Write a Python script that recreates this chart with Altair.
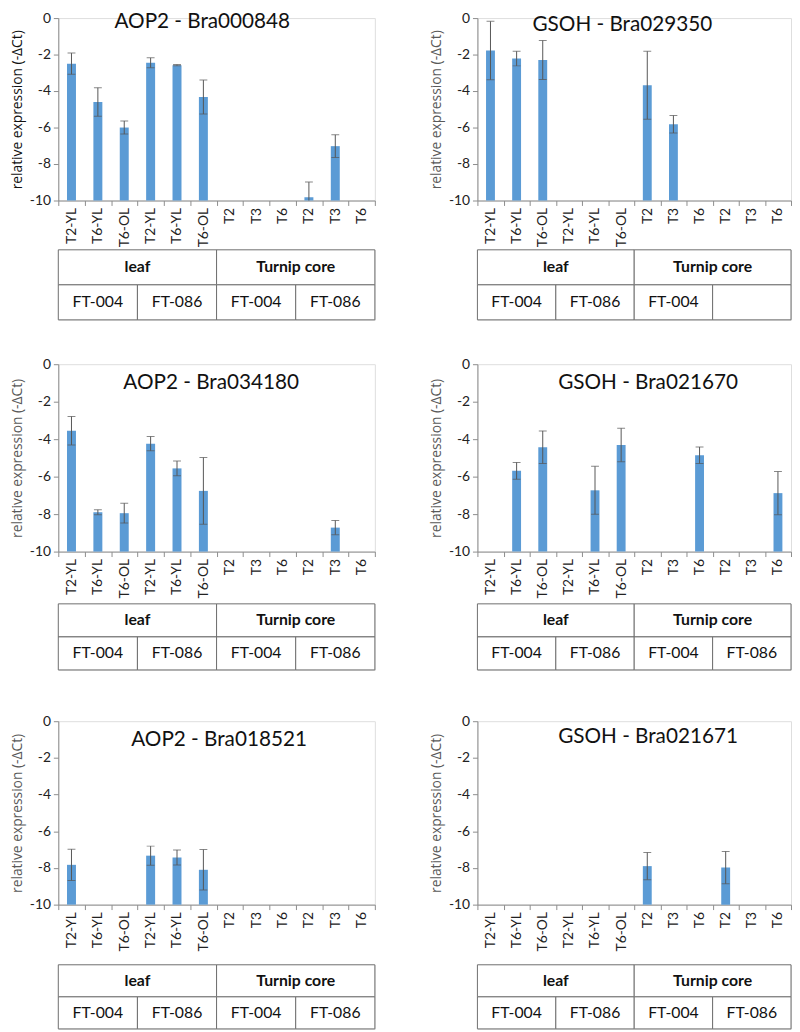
import altair as alt
import pandas as pd

categories = ["T2-YL", "T6-YL", "T6-OL", "T2-YL", "T6-YL", "T6-OL",
              "T2", "T3", "T6", "T2", "T3", "T6"]

titles = ["AOP2 - Bra000848", "GSOH - Bra029350",
          "AOP2 - Bra034180", "GSOH - Bra021670",
          "AOP2 - Bra018521", "GSOH - Bra021671"]

values_p1 = [-2.5, -4.6, -6.0, -2.45, -2.58, -4.33, -10, -10, -10, -9.82, -7.02, -10]
errors_p1 = [0.58, 0.78, 0.36, 0.27, 0.03, 0.93, 0, 0, 0, 0.83, 0.62, 0]

values_p2 = [-1.78, -2.22, -2.3, -10, -10, -10, -3.68, -5.82, -10, -10, -10, -10]
errors_p2 = [1.6, 0.4, 1.07, 0, 0, 0, 1.86, 0.48, 0, 0, 0, 0]

values_p3 = [-3.55, -7.9, -7.95, -4.24, -5.56, -6.76, -10, -10, -10, -10, -8.72, -10]
errors_p3 = [0.76, 0.13, 0.53, 0.38, 0.39, 1.78, 0, 0, 0, 0, 0.38, 0]

values_p4 = [-10, -5.69, -4.43, -10, -6.73, -4.31, -10, -10, -4.86, -10, -10, -6.88]
errors_p4 = [0, 0.45, 0.87, 0, 1.28, 0.89, 0, 0, 0.44, 0, 0, 1.15]

values_p5 = [-7.83, -10, -10, -7.33, -7.43, -8.1, -10, -10, -10, -10, -10, -10]
errors_p5 = [0.85, 0, 0, 0.52, 0.41, 1.1, 0, 0, 0, 0, 0, 0]

values_p6 = [-10, -10, -10, -10, -10, -10, -7.9, -10, -10, -7.98, -10, -10]
errors_p6 = [0, 0, 0, 0, 0, 0, 0.74, 0, 0, 0.88, 0, 0]

table_top = ["leaf", "Turnip core"]
table_bottom = ["FT-004", "FT-086", "FT-004", "FT-086"]
table_bottom_p2 = ["FT-004", "FT-086", "FT-004", ""]

y_ticks = [0, -2, -4, -6, -8, -10]
BAR = "#5B9BD5"
FONT = "Lato"

label_expr = "[" + ",".join("'%s'" % c for c in categories) + "][floor(datum.value)]"


def panel(title, values, errors, bottom, W, H, TH, tx, ty, ytcol, gap):
    df = pd.DataFrame({"i": list(range(12)), "cat": categories,
                       "value": values, "err": errors})
    xs = alt.Scale(domain=[0, 12], nice=False, zero=False)
    ys = alt.Scale(domain=[-10, 0], nice=False, zero=False)
    yaxis = alt.Axis(values=y_ticks, title="relative expression (-ΔCt)",
                     titleFont="Open Sans", titleFontSize=14, titleFontWeight="normal",
                     titleColor=ytcol,
                     labelFontSize=14, labelColor="#222222", labelExpr="'' + datum.value",
                     domainColor="#8c8c8c", tickColor="#8c8c8c", tickSize=5,
                     labelPadding=3, titlePadding=5, grid=False)
    base = alt.Chart(df).transform_calculate(
        xl="datum.i + 0.33", xr="datum.i + 0.67", xc="datum.i + 0.5",
        base="-10", lo="datum.value - datum.err", hi="datum.value + datum.err")
    bars = base.mark_bar(color=BAR).encode(
        x=alt.X("xl:Q", scale=xs, axis=alt.Axis(
            values=[i + 0.5 for i in range(12)], labelExpr=label_expr, labelAngle=-90,
            labelFontSize=14, labelColor="#222222", ticks=False, tickSize=0,
            labelPadding=7, domainColor="#8c8c8c", grid=False, title=None, orient="bottom")),
        x2="xr:Q",
        y=alt.Y("value:Q", scale=ys, axis=yaxis),
        y2="base:Q")
    errdf = base.transform_filter("datum.err > 0")
    rules = errdf.mark_rule(color="#555555", strokeWidth=1, clip=True).encode(
        x=alt.X("xc:Q", scale=xs, axis=alt.Axis(
            values=list(range(13)), labels=False, ticks=True, tickSize=5,
            tickColor="#8c8c8c", domain=False, grid=False, title=None, orient="bottom")),
        y=alt.Y("lo:Q", scale=ys, axis=yaxis),
        y2="hi:Q")
    cap_hi = errdf.mark_tick(color="#555555", orient="horizontal", size=8, thickness=1,
                             clip=True).encode(
        x=alt.X("xc:Q", scale=xs, axis=None),
        y=alt.Y("hi:Q", scale=ys, axis=yaxis))
    cap_lo = errdf.mark_tick(color="#555555", orient="horizontal", size=8, thickness=1,
                             clip=True).encode(
        x=alt.X("xc:Q", scale=xs, axis=None),
        y=alt.Y("lo:Q", scale=ys, axis=yaxis))
    ttl = alt.Chart(pd.DataFrame({"t": [title]})).mark_text(
        font=FONT, fontSize=21, color="#111111", baseline="middle", align="center").encode(
        x=alt.value(tx), y=alt.value(ty), text="t:N")
    plot = alt.layer(bars, rules, cap_hi, cap_lo, ttl).resolve_axis(
        x="independent").properties(width=W, height=H)

    cells = pd.DataFrame({
        "x0": [0, 6, 0, 3, 6, 9],
        "x1": [6, 12, 3, 6, 9, 12],
        "r": [0, 0, 1, 1, 1, 1],
        "label": table_top + bottom,
        "bold": [1, 1, 0, 0, 0, 0]})
    tx_s = alt.Scale(domain=[0, 12], nice=False, zero=False)
    ty_s = alt.Scale(domain=[0, 2], nice=False, zero=False, reverse=True)
    tbase = alt.Chart(cells).transform_calculate(
        r1="datum.r + 1", xm="(datum.x0 + datum.x1) / 2", ym="datum.r + 0.5")
    rects = tbase.mark_rect(fill="white", stroke="#6e6e6e", strokeWidth=1).encode(
        x=alt.X("x0:Q", scale=tx_s, axis=None), x2="x1:Q",
        y=alt.Y("r:Q", scale=ty_s, axis=None), y2="r1:Q")
    t_bold = tbase.transform_filter("datum.bold == 1").mark_text(
        font=FONT, fontSize=16, fontWeight="bold", color="#111111").encode(
        x=alt.X("xm:Q", scale=tx_s, axis=None), y=alt.Y("ym:Q", scale=ty_s, axis=None),
        text="label:N")
    t_norm = tbase.transform_filter("datum.bold == 0").mark_text(
        font=FONT, fontSize=16, color="#111111").encode(
        x=alt.X("xm:Q", scale=tx_s, axis=None), y=alt.Y("ym:Q", scale=ty_s, axis=None),
        text="label:N")
    table = alt.layer(rects, t_bold, t_norm).properties(width=W, height=TH)
    return alt.vconcat(plot, table, spacing=gap)


p1 = panel(titles[0], values_p1, errors_p1, table_bottom, 321, 185, 71, 146, 4, "#111111", 1)
p2 = panel(titles[1], values_p2, errors_p2, table_bottom_p2, 318, 185, 71, 147, 7, "#595959", 1)
p3 = panel(titles[2], values_p3, errors_p3, table_bottom, 321, 190, 67, 155, 19, "#595959", 4)
p4 = panel(titles[3], values_p4, errors_p4, table_bottom, 318, 190, 67, 173, 19, "#595959", 4)
p5 = panel(titles[4], values_p5, errors_p5, table_bottom, 321, 186, 65, 163, 19, "#595959", 12)
p6 = panel(titles[5], values_p6, errors_p6, table_bottom, 318, 186, 65, 173, 16, "#595959", 12)

row1 = alt.hconcat(p1, p2, spacing=54)
row2 = alt.hconcat(p3, p4, spacing=54)
row3 = alt.hconcat(p5, p6, spacing=54)

top = alt.vconcat(row1, row2, spacing=36)
chart = alt.vconcat(top, row3, spacing=43).properties(
    padding={"left": 2, "top": -5, "right": 0, "bottom": 0}
).configure_view(stroke=None).configure(font=FONT).configure_axis(
    labelFont=FONT, titleFont=FONT)

chart.save("out.html", embed_options={"renderer": "svg", "actions": False})
